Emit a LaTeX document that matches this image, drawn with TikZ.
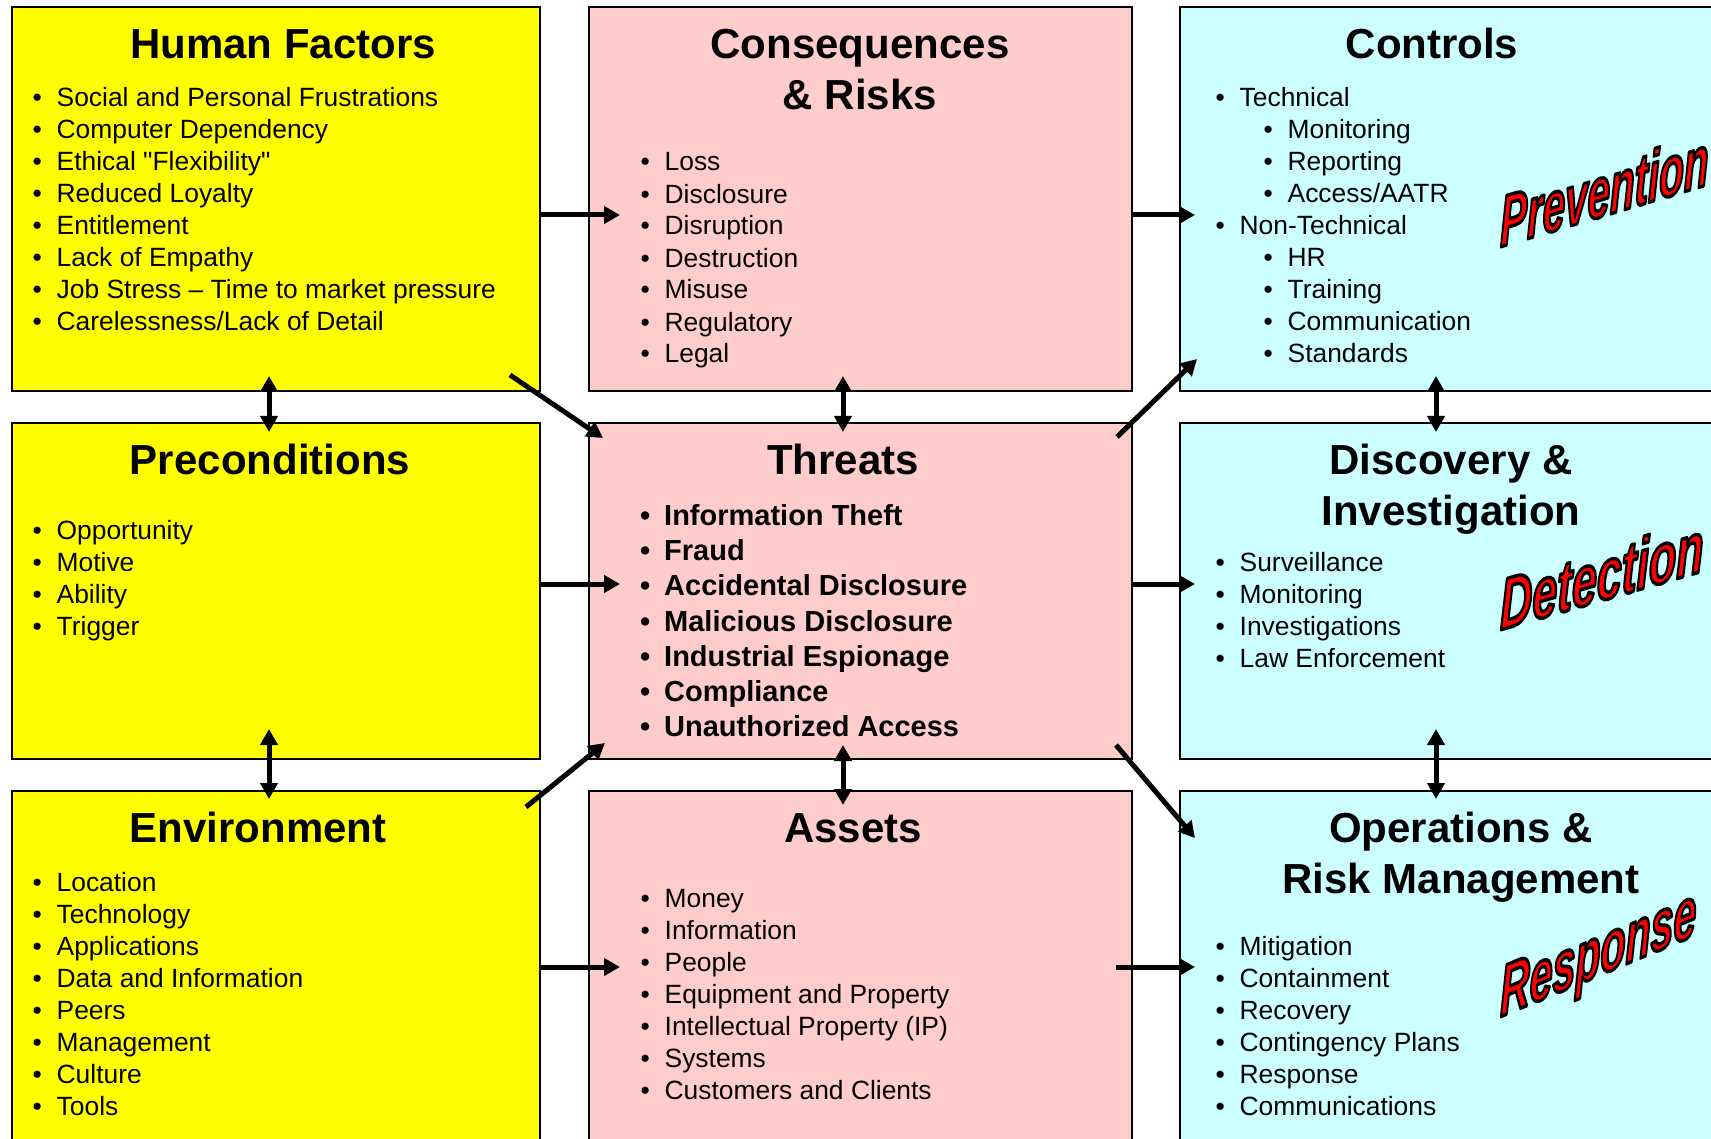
\documentclass[tikz,border=0pt]{standalone}
\usepackage{fontspec}
\setmainfont{Liberation Sans}
\usepackage{graphicx}
\usepackage{tikz}
\usetikzlibrary{arrows.meta}
\usetikzlibrary{positioning}
\definecolor{hfyellow}{RGB}{255,255,0}
\definecolor{thpink}{RGB}{255,204,204}
\definecolor{ctcyan}{RGB}{204,255,255}
\newcommand{\bul}{\makebox[24pt][l]{\textbullet}}
\newcommand{\outl}[1]{\special{pdf:code q 0 0 0 RG 3.5 w 1 j 2 Tr}#1\special{pdf:code Q}}
\tikzset{
  box/.style={draw=black,line width=1.5pt,inner sep=0pt,outer sep=0pt,minimum width=528pt},
  ttl/.style={font=\fontsize{42}{51}\selectfont\bfseries,align=center,anchor=base,inner sep=0pt},
  lst/.style={font=\fontsize{26.4}{32}\selectfont,align=left,anchor=base west,inner sep=0pt},
  blst/.style={lst,font=\fontsize{29}{35.2}\selectfont\bfseries},
  arr/.style={line width=5pt,-{Triangle[length=16pt,width=17pt]}},
  darr/.style={line width=5pt,{Triangle[length=16pt,width=17pt]}-{Triangle[length=16pt,width=17pt]}},
  wa/.style={font=\fontsize{72}{72}\selectfont\bfseries\itshape,text=red,inner sep=0pt,anchor=base west,transform shape}
}
\begin{document}
\begin{tikzpicture}[x=1pt,y=-1pt]
\useasboundingbox (0,0) rectangle (1711,1139);
\node[box,fill=hfyellow,minimum height=384pt] (hf) at (276,199) {};
\node[box,fill=hfyellow,minimum height=336pt,below=32pt of hf] (pre) {};
\node[box,fill=hfyellow,minimum height=389pt,below=32pt of pre] (env) {};
\node[box,fill=thpink,minimum width=543pt,minimum height=384pt,right=49pt of hf] (cons) {};
\node[box,fill=thpink,minimum width=543pt,minimum height=336pt,below=32pt of cons] (thr) {};
\node[box,fill=thpink,minimum width=543pt,minimum height=389pt,below=32pt of thr] (ast) {};
\node[box,fill=ctcyan,minimum width=580pt,minimum height=384pt,right=48pt of cons] (ctl) {};
\node[box,fill=ctcyan,minimum width=580pt,minimum height=336pt,below=32pt of ctl] (dis) {};
\node[box,fill=ctcyan,minimum width=580pt,minimum height=389pt,below=32pt of dis] (ops) {};

% titles and lists sit on the baseline of their last line
\node[ttl] (hft) at (283,58.7) {Human Factors};
\node[ttl] (pret) at (270,474.4) {Preconditions};
\node[ttl] (envt) at (258,842) {Environment};
\node[ttl] (const) at (860,110) {Consequences\\\& Risks};
\node[ttl] (thrt) at (843,474.4) {Threats};
\node[ttl] (astt) at (853,842) {Assets};
\node[ttl] (ctlt) at (1432,58.7) {Controls};
\node[ttl] (dist) at (1451,525.7) {Discovery \&\\Investigation};
\node[ttl] (opst) at (1461,893.4) {Operations \&\\Risk Management};

\node[lst] (hfl) at (32.5,330.5) {\bul Social and Personal Frustrations\\\bul Computer Dependency\\\bul Ethical \textquotedbl Flexibility\textquotedbl\\\bul Reduced Loyalty\\\bul Entitlement\\\bul Lack of Empathy\\\bul Job Stress – Time to market pressure\\\bul Carelessness/Lack of Detail};
\node[lst] (prel) at (32.5,635.7) {\bul Opportunity\\\bul Motive\\\bul Ability\\\bul Trigger};
\node[lst] (envl) at (32.5,1115) {\bul Location\\\bul Technology\\\bul Applications\\\bul Data and Information\\\bul Peers\\\bul Management\\\bul Culture\\\bul Tools};
\node[lst] (consl) at (640.5,363) {\bul Loss\\\bul Disclosure\\\bul Disruption\\\bul Destruction\\\bul Misuse\\\bul Regulatory\\\bul Legal};
\node[blst] (thrl) at (640,736.7) {\bul Information Theft\\\bul Fraud\\\bul Accidental Disclosure\\\bul Malicious Disclosure\\\bul Industrial Espionage\\\bul Compliance\\\bul Unauthorized Access};
\node[lst] (astl) at (640.5,1099.5) {\bul Money\\\bul Information\\\bul People\\\bul Equipment and Property\\\bul Intellectual Property (IP)\\\bul Systems\\\bul Customers and Clients};
\node[lst] (ctll) at (1215.5,362.5) {\bul Technical\\\hspace*{48pt}\bul Monitoring\\\hspace*{48pt}\bul Reporting\\\hspace*{48pt}\bul Access/AATR\\\bul Non-Technical\\\hspace*{48pt}\bul HR\\\hspace*{48pt}\bul Training\\\hspace*{48pt}\bul Communication\\\hspace*{48pt}\bul Standards};
\node[lst] (disl) at (1215.5,667.4) {\bul Surveillance\\\bul Monitoring\\\bul Investigations\\\bul Law Enforcement};
\node[lst] (opsl) at (1215.5,1115.5) {\bul Mitigation\\\bul Containment\\\bul Recovery\\\bul Contingency Plans\\\bul Response\\\bul Communications};

\begin{scope}[shift={(1500,247)},yslant=0.3]
\node[wa] (prev) at (0,0) {\outl{\scalebox{0.56}[1]{Prevention}}};
\end{scope}
\begin{scope}[shift={(1500,630)},yslant=0.29]
\node[wa] (det) at (0,0) {\outl{\scalebox{0.62}[1]{Detection}}};
\end{scope}
\begin{scope}[shift={(1500,1017)},yslant=0.42]
\node[wa] (resp) at (0,0) {\outl{\scalebox{0.57}[1]{Response}}};
\end{scope}

\draw[arr] ([yshift=-16pt]hf.east) -- ([xshift=31pt,yshift=-16pt]cons.west);
\draw[arr] ([yshift=-16pt]cons.east) -- ([xshift=15pt,yshift=-16pt]ctl.west);
\draw[arr] ([yshift=7pt]pre.east) -- ([xshift=31pt,yshift=7pt]thr.west);
\draw[arr] ([yshift=7pt]thr.east) -- ([xshift=15pt,yshift=7pt]dis.west);
\draw[arr] ([yshift=18.5pt]env.east) -- ([xshift=31pt,yshift=18.5pt]ast.west);
\draw[arr] ([xshift=-16pt,yshift=18.5pt]ast.east) -- ([xshift=15pt,yshift=18.5pt]ops.west);
\draw[darr] ([xshift=-7pt,yshift=15pt]hf.south) -- ([xshift=-7pt,yshift=-9pt]pre.north);
\draw[darr] ([xshift=-17.5pt,yshift=15pt]cons.south) -- ([xshift=-17.5pt,yshift=-9pt]thr.north);
\draw[darr] ([xshift=-34pt,yshift=15pt]ctl.south) -- ([xshift=-34pt,yshift=-9pt]dis.north);
\draw[darr] ([xshift=-7pt,yshift=30pt]pre.south) -- ([xshift=-7pt,yshift=-8pt]env.north);
\draw[darr] ([xshift=-17.5pt,yshift=14pt]thr.south) -- ([xshift=-17.5pt,yshift=-14pt]ast.north);
\draw[darr] ([xshift=-34pt,yshift=30pt]dis.south) -- ([xshift=-34pt,yshift=-8pt]ops.north);
\draw[arr] ([xshift=-30pt,yshift=16pt]hf.south east) -- ([xshift=14pt,yshift=-15pt]thr.north west);
\draw[arr] ([xshift=-15pt,yshift=-14pt]thr.north east) -- ([xshift=17pt,yshift=32pt]ctl.south west);
\draw[arr] ([xshift=-14pt,yshift=-16pt]env.north east) -- ([xshift=16pt,yshift=16pt]thr.south west);
\draw[arr] ([xshift=-16pt,yshift=14pt]thr.south east) -- ([xshift=15pt,yshift=-47pt]ops.north west);
\end{tikzpicture}
\end{document}
